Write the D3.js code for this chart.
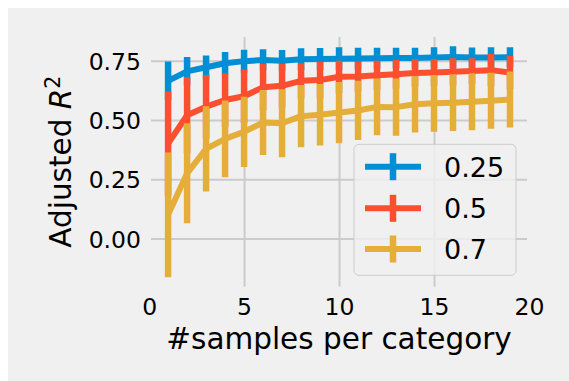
<!DOCTYPE html>
<html>
<head>
<meta charset="utf-8">
<script src="https://cdn.jsdelivr.net/npm/d3@7"></script>
<style>
  html, body { margin: 0; padding: 0; background: #ffffff; }
  svg { display: block; }
  text { font-family: "DejaVu Sans", sans-serif; fill: #000; }
</style>
</head>
<body>
<svg id="chart" width="569" height="381"></svg>
<script>
// ---- data ----
const samples = [1,2,3,4,5,6,7,8,9,10,11,12,13,14,15,16,17,18,19];
const seriesNames = ["0.25", "0.5", "0.7"];
const meanA = [0.665,0.705,0.722,0.739,0.748,0.753,0.750,0.756,0.757,0.758,0.759,0.760,0.761,0.761,0.763,0.765,0.763,0.763,0.764];
const stdA  = [0.081,0.060,0.050,0.048,0.048,0.045,0.045,0.046,0.046,0.048,0.045,0.044,0.043,0.043,0.043,0.046,0.042,0.043,0.042];
const meanB = [0.400,0.520,0.556,0.584,0.600,0.638,0.644,0.665,0.668,0.682,0.683,0.688,0.693,0.698,0.700,0.703,0.706,0.710,0.700];
const stdB  = [0.220,0.160,0.134,0.113,0.113,0.098,0.092,0.074,0.076,0.068,0.063,0.062,0.060,0.058,0.057,0.057,0.054,0.068,0.070];
const meanC = [0.100,0.275,0.378,0.420,0.450,0.489,0.486,0.516,0.522,0.531,0.540,0.555,0.554,0.566,0.570,0.573,0.577,0.581,0.586];
const stdC  = [0.263,0.211,0.180,0.162,0.148,0.137,0.143,0.131,0.130,0.129,0.125,0.120,0.121,0.119,0.120,0.120,0.120,0.118,0.118];
const xTicks = [0,5,10,15,20];
const yTicks = [0,0.25,0.5,0.75];
const colors = ["#008fd5", "#fc4f30", "#e5ae38"];

const series = [
  {name: seriesNames[0], mean: meanA, std: stdA, color: colors[0]},
  {name: seriesNames[1], mean: meanB, std: stdB, color: colors[1]},
  {name: seriesNames[2], mean: meanC, std: stdC, color: colors[2]}
];

// ---- layout ----
const svg = d3.select("#chart");
const W = 569, H = 381;
const plot = {left: 151, right: 527.1, top: 36.7, bottom: 286.7};

svg.append("rect").attr("x", 8).attr("y", 8).attr("width", W - 8).attr("height", H - 8).attr("fill", "#f0f0f0");

const x = d3.scaleLinear().domain([0.1, 19.9]).range([plot.left, plot.right]);
const y = d3.scaleLinear().domain([-0.203, 0.851]).range([plot.bottom, plot.top]);

svg.append("clipPath").attr("id", "clip").append("rect")
  .attr("x", plot.left).attr("y", plot.top)
  .attr("width", plot.right - plot.left).attr("height", plot.bottom - plot.top);

// grid
const grid = svg.append("g").attr("clip-path", "url(#clip)");
grid.append("g").attr("transform", `translate(0,${plot.bottom})`)
  .call(d3.axisBottom(x).tickValues(xTicks).tickSize(-(plot.bottom - plot.top)).tickFormat(""));
grid.append("g").attr("transform", `translate(${plot.left},0)`)
  .call(d3.axisLeft(y).tickValues(yTicks).tickSize(-(plot.right - plot.left)).tickFormat(""));
grid.selectAll(".domain").remove();
grid.selectAll(".tick line").attr("stroke", "#cbcbcb").attr("stroke-width", 2);

// tick labels
const xl = svg.append("g").attr("transform", `translate(0,${plot.bottom})`)
  .call(d3.axisBottom(x).tickValues(xTicks).tickSize(0).tickPadding(0).tickFormat(d3.format("d")));
xl.select(".domain").remove();
xl.selectAll(".tick text").attr("font-size", 23.5).attr("dy", null).attr("y", 28.3)
  .attr("font-family", "DejaVu Sans").attr("fill", "#000");

const yl = svg.append("g").attr("transform", `translate(${plot.left},0)`)
  .call(d3.axisLeft(y).tickValues(yTicks).tickSize(0).tickPadding(0).tickFormat(d3.format(".2f")));
yl.select(".domain").remove();
yl.selectAll(".tick text").attr("font-size", 23.5).attr("dy", null).attr("y", 8.5).attr("x", -10)
  .attr("font-family", "DejaVu Sans").attr("fill", "#000");

// axis labels
svg.append("text").attr("x", (plot.left + plot.right) / 2).attr("y", 349)
  .attr("text-anchor", "middle").attr("font-size", 29.5).text("#samples per category");

const ylab = svg.append("text")
  .attr("transform", `translate(71,${(plot.top + plot.bottom) / 2}) rotate(-90)`)
  .attr("text-anchor", "middle").attr("font-size", 29.5);
ylab.append("tspan").text("Adjusted ");
ylab.append("tspan").attr("font-style", "italic").text("R");
ylab.append("tspan").attr("font-size", 20.5).attr("dy", -11.5).text("2");

// series
const line = d3.line().x((d, i) => x(samples[i])).y(d => y(d));
const marks = svg.append("g").attr("clip-path", "url(#clip)");
series.forEach(s => {
  const g = marks.append("g");
  g.selectAll("line.err").data(samples).enter().append("line")
    .attr("class", "err")
    .attr("x1", (d) => x(d)).attr("x2", (d) => x(d))
    .attr("y1", (d, i) => y(s.mean[i] - s.std[i]))
    .attr("y2", (d, i) => y(s.mean[i] + s.std[i]))
    .attr("stroke", s.color).attr("stroke-width", 6.5);
  g.append("path").datum(s.mean).attr("d", line)
    .attr("fill", "none").attr("stroke", s.color).attr("stroke-width", 6)
    .attr("stroke-linejoin", "round").attr("stroke-linecap", "butt");
});

// legend
const leg = svg.append("g");
leg.append("rect").attr("x", 354).attr("y", 144.3).attr("width", 162).attr("height", 131)
  .attr("rx", 5).attr("fill", "#f0f0f0").attr("fill-opacity", 0.8)
  .attr("stroke", "#cccccc").attr("stroke-width", 1);
const legY = [166.7, 208.3, 249];
series.forEach((s, i) => {
  const ly = legY[i];
  leg.append("line").attr("x1", 365).attr("x2", 421).attr("y1", ly).attr("y2", ly)
    .attr("stroke", s.color).attr("stroke-width", 6);
  leg.append("line").attr("x1", 393).attr("x2", 393).attr("y1", ly - 13.5).attr("y2", ly + 13.5)
    .attr("stroke", s.color).attr("stroke-width", 6.5);
  leg.append("text").attr("x", 444).attr("y", ly + 9.8).attr("font-size", 27).text(s.name);
});
</script>
</body>
</html>
